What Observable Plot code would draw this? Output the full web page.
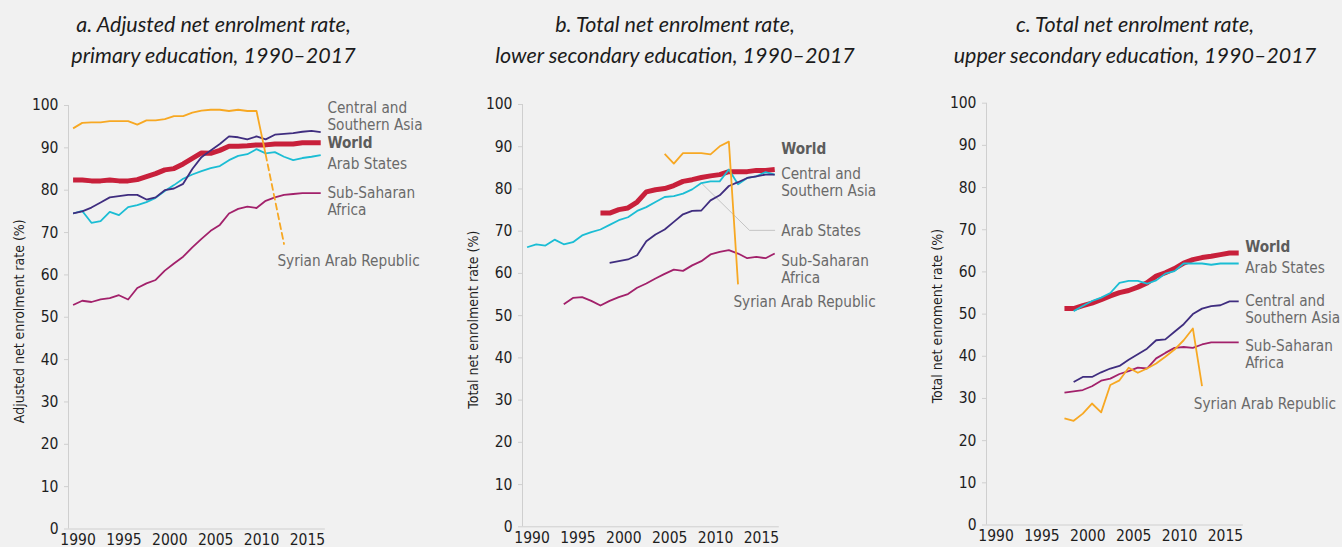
<!DOCTYPE html>
<html>
<head>
<meta charset="utf-8">
<script src="https://cdn.jsdelivr.net/npm/d3@7"></script>
<script src="https://cdn.jsdelivr.net/npm/@observablehq/plot@0.6"></script>
<style>
  html, body { margin: 0; padding: 0; background: #f1f1f1; }
  body { width: 1342px; height: 547px; overflow: hidden; position: relative; }
  .panel { position: absolute; top: 0; }
  .title { position: absolute; top: 9px; width: 440px; text-align: center;
           font-family: Lato, "Open Sans", sans-serif; font-style: italic; font-size: 21.5px;
           line-height: 31px; color: #1c1c1c; white-space: nowrap; }
</style>
</head>
<body>
<div id="root"></div>
<script>
// ---------------- DATA ----------------
const years = [1990,1991,1992,1993,1994,1995,1996,1997,1998,1999,2000,2001,2002,2003,
               2004,2005,2006,2007,2008,2009,2010,2011,2012,2013,2014,2015,2016,2017];
const xTicks = [1990,1995,2000,2005,2010,2015];
const yTicks = [0,10,20,30,40,50,60,70,80,90,100];

// a. Adjusted net enrolment rate, primary education
const worldA = [82.4,82.4,82.2,82.2,82.4,82.2,82.2,82.5,83.2,83.9,84.8,85.1,86.2,87.5,88.8,88.7,89.4,90.4,90.4,90.5,90.7,90.7,90.9,90.9,90.9,91.2,91.2,91.2];
const csAsiaA = [74.5,75.0,75.9,77.1,78.3,78.6,78.9,78.9,77.8,78.3,80.0,80.4,81.5,85.0,87.8,89.4,90.9,92.7,92.5,92.0,92.7,92.0,93.1,93.3,93.5,93.8,94.0,93.7];
const arabA = [74.5,75.1,72.3,72.7,74.9,74.1,76.0,76.5,77.2,78.2,79.8,81.2,82.7,83.7,84.5,85.2,85.7,87.1,88.1,88.5,89.7,88.7,89.0,87.9,87.1,87.6,87.9,88.3];
const ssaA = [52.9,53.9,53.6,54.2,54.5,55.2,54.2,56.9,58.0,58.8,61.0,62.7,64.3,66.5,68.5,70.4,71.8,74.5,75.6,76.1,75.8,77.5,78.3,78.9,79.1,79.3,79.3,79.3];
const syriaA = [94.6,95.9,96.0,96.0,96.3,96.3,96.3,95.5,96.5,96.5,96.8,97.5,97.5,98.3,98.8,99.0,99.0,98.7,99.0,98.7,98.7,88.4,null,67.3,null,null,null,null];

// b. Total net enrolment rate, lower secondary education
const worldB = [null,null,null,null,null,null,null,null,74.3,74.3,75.1,75.5,76.9,79.3,79.8,80.1,80.8,81.8,82.2,82.7,83.1,83.4,84.1,84.1,84.1,84.4,84.4,84.6];
const csAsiaB = [null,null,null,null,null,null,null,null,null,62.5,62.9,63.3,64.3,67.6,69.2,70.4,72.2,74.0,74.8,74.9,77.3,78.5,80.7,81.6,82.6,83.0,83.4,83.4];
const arabB = [66.2,66.9,66.6,68.0,66.9,67.4,69.0,69.8,70.4,71.5,72.6,73.3,74.8,75.7,76.9,78.1,78.3,78.9,79.9,81.4,81.8,81.8,84.6,81.1,82.6,83.0,84.0,83.4];
const ssaB = [null,null,null,null,52.7,54.2,54.4,53.5,52.4,53.5,54.4,55.1,56.6,57.6,58.8,59.9,60.9,60.6,61.9,62.9,64.5,65.1,65.5,64.7,63.6,63.9,63.6,64.7];
const syriaB = [null,null,null,null,null,null,null,null,null,null,null,null,null,null,null,88.3,86.0,88.5,88.5,88.5,88.2,90.1,91.2,57.4,null,null,null,null];

// c. Total net enrolment rate, upper secondary education
const worldC = [null,null,null,null,null,null,null,null,51.3,51.3,52.0,52.6,53.4,54.3,55.1,55.6,56.4,57.4,59.0,59.8,60.8,62.1,62.9,63.4,63.7,64.1,64.5,64.5];
const arabC = [null,null,null,null,null,null,null,null,null,50.7,51.9,53.1,53.9,55.0,57.4,57.9,57.9,57.2,58.0,59.6,60.2,62.0,62.0,62.0,61.7,62.0,62.0,62.0];
const csAsiaC = [null,null,null,null,null,null,null,null,null,33.9,35.1,35.1,36.2,37.1,37.7,39.2,40.5,41.8,43.8,44.0,45.8,47.6,50.0,51.3,51.9,52.1,53.0,53.0];
const ssaC = [null,null,null,null,null,null,null,null,31.4,31.7,32.0,32.9,34.2,34.7,35.8,36.5,37.3,37.1,39.5,40.8,42.0,42.2,42.0,42.8,43.3,43.3,43.3,43.3];
const syriaC = [null,null,null,null,null,null,null,null,25.3,24.7,26.4,28.8,26.7,33.2,34.3,37.3,36.1,37.1,38.3,39.9,41.6,43.8,46.6,32.9,null,null,null,null];

// labels (annotation text and anchor in data units)
const labelsA = [
  {text: "Central and\nSouthern Asia", x: 2017.73, y: 97.6},
  {text: "World", x: 2017.73, y: 91.1, bold: true},
  {text: "Arab States", x: 2017.73, y: 86.4},
  {text: "Sub-Saharan\nAfrica", x: 2017.73, y: 77.5},
  {text: "Syrian Arab Republic", x: 2012.28, y: 63.5}
];
const labelsB = [
  {text: "World", x: 2017.7, y: 89.4, bold: true},
  {text: "Central and\nSouthern Asia", x: 2017.7, y: 81.7},
  {text: "Arab States", x: 2017.7, y: 70.1},
  {text: "Sub-Saharan\nAfrica", x: 2017.7, y: 61.1},
  {text: "Syrian Arab Republic", x: 2012.5, y: 53.4}
];
const labelsC = [
  {text: "World", x: 2017.7, y: 65.9, bold: true},
  {text: "Arab States", x: 2017.7, y: 61.1},
  {text: "Central and\nSouthern Asia", x: 2017.7, y: 51.2},
  {text: "Sub-Saharan\nAfrica", x: 2017.7, y: 40.5},
  {text: "Syrian Arab Republic", x: 2012.1, y: 28.9}
];
const leaderB = [{x: 2009, y: 81.4}, {x: 2014.25, y: 70.2}, {x: 2017, y: 70.2}];

// ---------------- STYLE ----------------
const FONT = "'DejaVu Sans Condensed', 'DejaVu Sans', sans-serif";
const COL = {world: "#c8203b", cs: "#3f2d7f", arab: "#1bbdd4", ssa: "#a2216b", syria: "#f7a823"};
const LABEL_COL = "#6a6a6a";
const AXIS_COL = "#cfcfcf";
const xDomain = [1989.5, 2017.5];

function rows(vals) { return years.map((yr, i) => ({x: yr, y: vals[i]})); }

function makePanel({left, width, mt, mb, title, ylabel, ylabelDy, series, labels, leader, syriaDashed}) {
  const marks = [
    Plot.ruleY([0], {x1: xDomain[0], x2: xDomain[1], stroke: AXIS_COL}),
    Plot.ruleX([xDomain[0]], {y1: 0, y2: 100, stroke: AXIS_COL}),
    Plot.axisY({ticks: yTicks, tickSize: 4, tickPadding: 6, stroke: AXIS_COL, fill: "#1e1e1e",
                fontSize: 15.5, label: null}),
    Plot.axisX({ticks: xTicks, tickFormat: d => String(d), tickSize: 0, tickPadding: 5, dx: 5,
                fill: "#1e1e1e", fontSize: 15.5, label: null}),
    Plot.text([ylabel], {frameAnchor: "left", textAnchor: "middle", lineAnchor: "middle",
                rotate: -90, dx: -49, dy: ylabelDy, fill: "#1e1e1e", fontSize: 14})
  ];
  if (leader) marks.push(Plot.line(leader, {x: "x", y: "y", stroke: "#c4c4c4", strokeWidth: 1}));
  for (const s of series) {
    marks.push(Plot.line(rows(s.values), {x: "x", y: "y", stroke: s.color, strokeWidth: s.width,
      strokeLinejoin: "round", strokeLinecap: "butt"}));
  }
  if (syriaDashed) {
    const r = rows(syriaDashed).filter(d => d.x >= 2011 && d.y != null);
    marks.push(Plot.line(r, {x: "x", y: "y", stroke: COL.syria, strokeWidth: 1.8, strokeDasharray: "6,4"}));
  }
  marks.push(Plot.text(labels.filter(d => !d.bold), {x: "x", y: "y", text: "text", textAnchor: "start",
    lineAnchor: "middle", lineHeight: 1.12, fill: LABEL_COL, fontSize: 15.2}));
  marks.push(Plot.text(labels.filter(d => d.bold), {x: "x", y: "y", text: "text", textAnchor: "start",
    lineAnchor: "middle", fill: "#5c5c5c", fontWeight: "bold", fontSize: 15.2}));

  const svg = Plot.plot({
    width, height: 547,
    marginLeft: 68, marginRight: width - 68 - 256.8, marginTop: mt, marginBottom: mb,
    style: {background: "transparent", fontFamily: FONT, overflow: "visible"},
    x: {domain: xDomain},
    y: {domain: [0, 100]},
    marks
  });
  const wrap = document.createElement("div");
  wrap.className = "panel";
  wrap.style.left = left + "px";
  wrap.appendChild(svg);
  document.getElementById("root").appendChild(wrap);

  const t = document.createElement("div");
  t.className = "title";
  t.style.left = (title.center - 220) + "px";
  t.innerHTML = title.lines.join("<br>");
  document.getElementById("root").appendChild(t);
}

makePanel({
  left: 0, width: 444, mt: 105, mb: 18.5,
  title: {center: 213.5, lines: ["a. Adjusted net enrolment rate,", "primary education, 1990–2017"]},
  ylabel: "Adjusted net enrolment rate (%)", ylabelDy: 4,
  series: [
    {values: worldA, color: COL.world, width: 5},
    {values: arabA, color: COL.arab, width: 1.8},
    {values: csAsiaA, color: COL.cs, width: 1.8},
    {values: ssaA, color: COL.ssa, width: 1.8},
    {values: syriaA, color: COL.syria, width: 1.8}
  ],
  labels: labelsA, syriaDashed: syriaA
});
makePanel({
  left: 454, width: 444, mt: 104, mb: 20.7,
  title: {center: 675, lines: ["b. Total net enrolment rate,", "lower secondary education, 1990–2017"]},
  ylabel: "Total net enrolment rate (%)", ylabelDy: 4,
  series: [
    {values: worldB, color: COL.world, width: 5},
    {values: arabB, color: COL.arab, width: 1.8},
    {values: csAsiaB, color: COL.cs, width: 1.8},
    {values: ssaB, color: COL.ssa, width: 1.8},
    {values: syriaB, color: COL.syria, width: 1.8}
  ],
  labels: labelsB, leader: leaderB
});
makePanel({
  left: 918, width: 424, mt: 102.7, mb: 22.5,
  title: {center: 1135, lines: ["c. Total net enrolment rate,", "upper secondary education, 1990–2017"]},
  ylabel: "Total net enroment rate (%)", ylabelDy: 2,
  series: [
    {values: worldC, color: COL.world, width: 5},
    {values: arabC, color: COL.arab, width: 1.8},
    {values: csAsiaC, color: COL.cs, width: 1.8},
    {values: ssaC, color: COL.ssa, width: 1.8},
    {values: syriaC, color: COL.syria, width: 1.8}
  ],
  labels: labelsC
});
</script>
</body>
</html>
